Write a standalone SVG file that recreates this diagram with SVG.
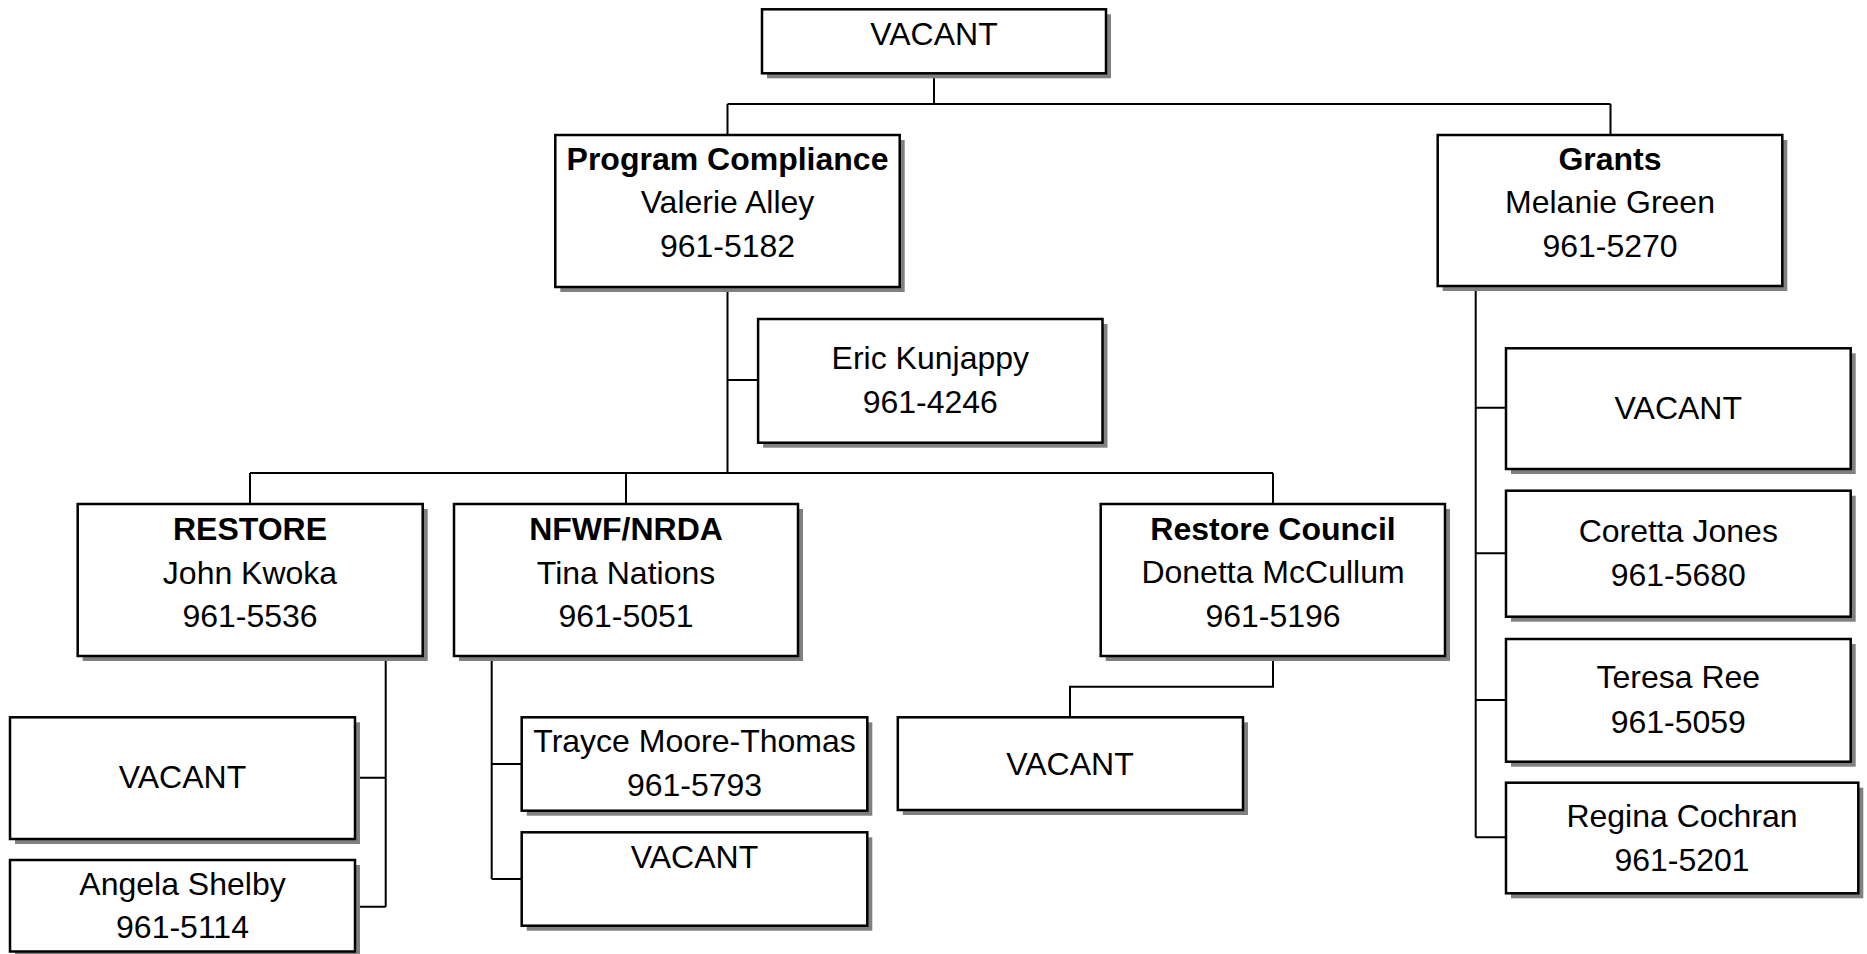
<svg xmlns="http://www.w3.org/2000/svg" width="1867" height="954" viewBox="0 0 1867 954">
<style>
.sh{fill:#808080}
.bx{fill:#fff;stroke:#000;stroke-width:2.5}
.ln{fill:none;stroke:#000;stroke-width:2}
.t{font-family:"Liberation Sans",Arial,sans-serif;font-size:32px;text-anchor:middle;fill:#000}
.b{font-weight:bold}
</style>
<rect width="1867" height="954" fill="#fff"/>
<g id="connectors">
<path class="ln" d="M934,73V104M727.5,104H1610.5M727.5,104V135M1610.5,104V135"/>
<path class="ln" d="M727.5,287V473M727.5,380H758"/>
<path class="ln" d="M250,473H1273M250,473V504M626,473V504M1273,473V504"/>
<path class="ln" d="M385.7,656V906.7M355,777.7H385.7M355,906.7H385.7"/>
<path class="ln" d="M491.7,656V879M491.7,764H521.7M491.7,879H521.7"/>
<path class="ln" d="M1273,656V686.7H1070V717"/>
<path class="ln" d="M1475.7,286V837.3M1475.7,407.7H1506M1475.7,553.3H1506M1475.7,700H1506M1475.7,837.3H1506"/>
</g>
<g id="n-top">
<rect class="sh" x="767" y="14.3" width="344" height="64"/>
<rect class="bx" x="762" y="9.3" width="344" height="64"/>
<text class="t" x="934" y="45">VACANT</text>
</g>
<g id="n-program">
<rect class="sh" x="560.3" y="140" width="344.4" height="152"/>
<rect class="bx" x="555.3" y="135" width="344.4" height="152"/>
<text class="t b" x="727.5" y="169.5">Program Compliance</text>
<text class="t" x="727.5" y="213.3">Valerie Alley</text>
<text class="t" x="727.5" y="257.3">961-5182</text>
</g>
<g id="n-grants">
<rect class="sh" x="1442.7" y="140" width="344.6" height="151"/>
<rect class="bx" x="1437.7" y="135" width="344.6" height="151"/>
<text class="t b" x="1610" y="170">Grants</text>
<text class="t" x="1610" y="213.3">Melanie Green</text>
<text class="t" x="1610" y="256.7">961-5270</text>
</g>
<g id="n-eric">
<rect class="sh" x="763.1" y="324" width="344.4" height="123.7"/>
<rect class="bx" x="758.1" y="319" width="344.4" height="123.7"/>
<text class="t" x="930.3" y="369.3">Eric Kunjappy</text>
<text class="t" x="930.3" y="413.3">961-4246</text>
</g>
<g id="n-restore">
<rect class="sh" x="82.7" y="509" width="345" height="152"/>
<rect class="bx" x="77.7" y="504" width="345" height="152"/>
<text class="t b" x="250" y="540">RESTORE</text>
<text class="t" x="250" y="584">John Kwoka</text>
<text class="t" x="250" y="626.7">961-5536</text>
</g>
<g id="n-nfwf">
<rect class="sh" x="459" y="509" width="344" height="152"/>
<rect class="bx" x="454" y="504" width="344" height="152"/>
<text class="t b" x="626" y="540">NFWF/NRDA</text>
<text class="t" x="626" y="584">Tina Nations</text>
<text class="t" x="626" y="626.7">961-5051</text>
</g>
<g id="n-council">
<rect class="sh" x="1105.7" y="509" width="344.3" height="152"/>
<rect class="bx" x="1100.7" y="504" width="344.3" height="152"/>
<text class="t b" x="1273" y="540">Restore Council</text>
<text class="t" x="1273" y="583.3">Donetta McCullum</text>
<text class="t" x="1273" y="626.7">961-5196</text>
</g>
<g id="n-restore-vacant">
<rect class="sh" x="15" y="722.3" width="345" height="121.7"/>
<rect class="bx" x="10" y="717.3" width="345" height="121.7"/>
<text class="t" x="182.5" y="788.3">VACANT</text>
</g>
<g id="n-angela">
<rect class="sh" x="15" y="865" width="345" height="92"/>
<rect class="bx" x="10" y="860" width="345" height="91.5"/>
<text class="t" x="182.5" y="895">Angela Shelby</text>
<text class="t" x="182.5" y="938.3">961-5114</text>
</g>
<g id="n-trayce">
<rect class="sh" x="526.7" y="722.3" width="345.6" height="93.4"/>
<rect class="bx" x="521.7" y="717.3" width="345.6" height="93.4"/>
<text class="t" x="694.5" y="751.7">Trayce Moore-Thomas</text>
<text class="t" x="694.5" y="796">961-5793</text>
</g>
<g id="n-nfwf-vacant">
<rect class="sh" x="526.7" y="837.3" width="345.6" height="93.4"/>
<rect class="bx" x="521.7" y="832.3" width="345.6" height="93.4"/>
<text class="t" x="694.5" y="868.3">VACANT</text>
</g>
<g id="n-council-vacant">
<rect class="sh" x="902.8" y="722.3" width="345.2" height="92.7"/>
<rect class="bx" x="897.8" y="717.3" width="345.2" height="92.7"/>
<text class="t" x="1070" y="775">VACANT</text>
</g>
<g id="n-grants-vacant">
<rect class="sh" x="1511" y="353.3" width="344.7" height="120.7"/>
<rect class="bx" x="1506" y="348.3" width="344.7" height="120.7"/>
<text class="t" x="1678.3" y="419.3">VACANT</text>
</g>
<g id="n-coretta">
<rect class="sh" x="1511" y="495.7" width="344.7" height="126"/>
<rect class="bx" x="1506" y="490.7" width="344.7" height="126"/>
<text class="t" x="1678.3" y="541.7">Coretta Jones</text>
<text class="t" x="1678.3" y="585.7">961-5680</text>
</g>
<g id="n-teresa">
<rect class="sh" x="1511" y="644" width="344.7" height="122.7"/>
<rect class="bx" x="1506" y="639" width="344.7" height="122.7"/>
<text class="t" x="1678.3" y="688.3">Teresa Ree</text>
<text class="t" x="1678.3" y="732.7">961-5059</text>
</g>
<g id="n-regina">
<rect class="sh" x="1511" y="787.7" width="352.3" height="110.6"/>
<rect class="bx" x="1506" y="782.7" width="352.3" height="110.6"/>
<text class="t" x="1682" y="826.7">Regina Cochran</text>
<text class="t" x="1682" y="870.7">961-5201</text>
</g>
</svg>
